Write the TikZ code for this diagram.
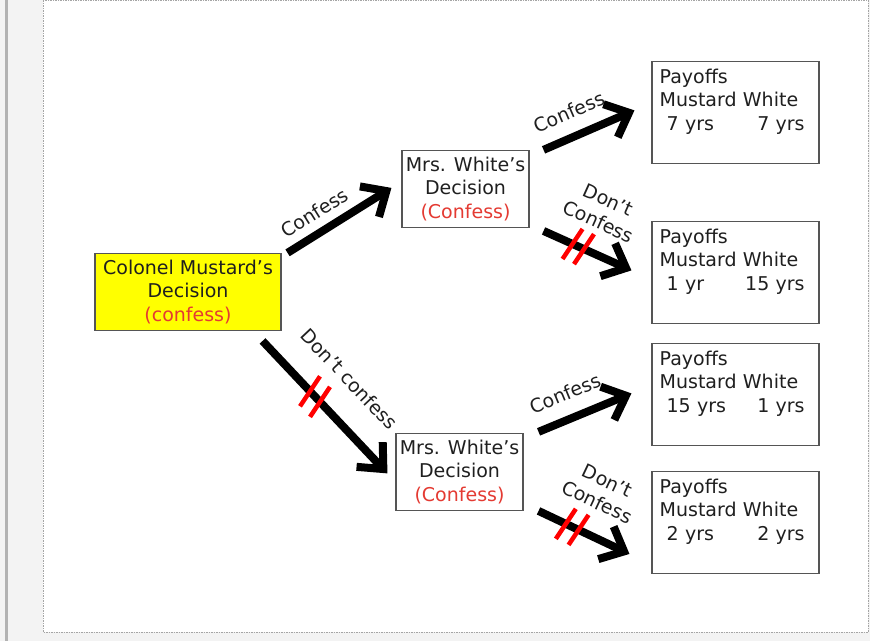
\documentclass[tikz,border=0pt]{standalone}
\usepackage{fontspec}
\setmainfont{DejaVu Sans}
\usetikzlibrary{arrows.meta}
\definecolor{bggray}{RGB}{243,243,243}
\definecolor{bargray}{RGB}{178,178,178}
\definecolor{framegray}{RGB}{165,165,165}
\definecolor{boxgray}{RGB}{85,85,85}
\definecolor{choice}{RGB}{228,58,50}
\definecolor{mustardfill}{RGB}{255,255,0}

\begin{document}
\begin{tikzpicture}[x=1pt, y=-1pt,
	every node/.style={font=\fontsize{19}{23.5}\selectfont, text=black!88},
	box/.style={draw=boxgray, line width=1.1pt, align=center, inner sep=0pt},
	payoff/.style={box, minimum width=167pt, minimum height=102pt},
	paytext/.style={anchor=north west, align=left, text width=145pt, inner xsep=8pt, inner ysep=8pt},
	move/.style={line width=8pt, -{Straight Barb[length=20pt, width=36pt]}},
	lbl/.style={sloped, align=center, inner sep=2pt},
	cut/.style={draw=red, line width=4.5pt}]
	% page and frame
	\fill[bggray] (0,0) rectangle (870,641);
	\fill[bargray] (5,0) rectangle (8,641);
	\filldraw[fill=white, draw=framegray, line width=0.8pt, dash pattern=on 1.5pt off 1pt] (43,0) rectangle (868,632);
	% decision boxes
	\node[box, fill=mustardfill, minimum width=186pt, minimum height=77pt] (mustard) at (188,291.5) {Colonel Mustard’s\\Decision\\\textcolor{choice}{(confess)}};
	\node[box, minimum width=127pt, minimum height=77pt] (white1) at (465.5,188.5) {Mrs. White’s\\Decision\\\textcolor{choice}{(Confess)}};
	\node[box, minimum width=127pt, minimum height=77pt] (white2) at (459.5,471.5) {Mrs. White’s\\Decision\\\textcolor{choice}{(Confess)}};
	% payoff boxes
	\node[payoff, label={[paytext]north west:{Payoffs\\Mustard White\\\hspace*{7pt}7 yrs\hfill 7 yrs}}] (pay1) at (735.5,112) {};
	\node[payoff, label={[paytext]north west:{Payoffs\\Mustard White\\\hspace*{7pt}1 yr\hfill 15 yrs}}] (pay2) at (735.5,272) {};
	\node[payoff, label={[paytext]north west:{Payoffs\\Mustard White\\\hspace*{7pt}15 yrs\hfill 1 yrs}}] (pay3) at (735.5,394) {};
	\node[payoff, label={[paytext]north west:{Payoffs\\Mustard White\\\hspace*{7pt}2 yrs\hfill 2 yrs}}] (pay4) at (735.5,522) {};
	% moves
	\draw[move] ([shift={(6,0)}]mustard.north east) -- node[lbl, pos=0.36, above=6pt] {Confess} ([shift={(-10,-1)}]white1.west);
	\draw[move] ([shift={(-19,10)}]mustard.south east) -- node[lbl, pos=0.48, above=24pt] {Don’t confess} coordinate[pos=0.38] (x1) coordinate[pos=0.46] (x2) ([shift={(-8,1.5)}]white2.west);
	\draw[move] ([shift={(14,0)}]white1.north east) -- node[lbl, pos=0.39, above=11pt] {Confess} ([shift={(-17,-2)}]pay1.west);
	\draw[move] ([shift={(14,3)}]white1.south east) -- node[lbl, pos=0.48, above=18pt] {Don’t\\Confess} coordinate[pos=0.33] (x3) coordinate[pos=0.46] (x4) ([shift={(-20,-2)}]pay2.west);
	\draw[move] ([shift={(15,-1)}]white2.north east) -- node[lbl, pos=0.39, above=12pt] {Confess} ([shift={(-20,-1)}]pay3.west);
	\draw[move] ([shift={(15,0)}]white2.south east) -- node[lbl, pos=0.49, above=20pt] {Don’t\\Confess} coordinate[pos=0.30] (x5) coordinate[pos=0.44] (x6) ([shift={(-22,-20)}]pay4.south west);
	% crossed out moves
	\foreach \c in {x1,x2,x3,x4,x5,x6}
		\draw[cut] ([shift={(-10,15)}]\c) -- ([shift={(10,-15)}]\c);
\end{tikzpicture}
\end{document}
